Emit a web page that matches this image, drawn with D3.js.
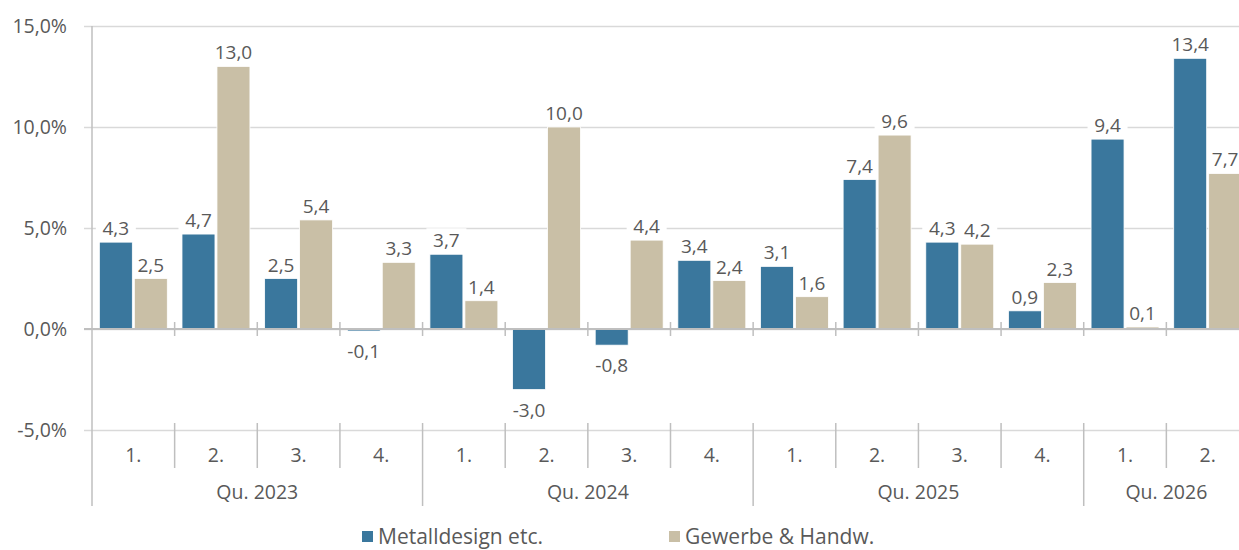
<!DOCTYPE html>
<html lang="de">
<head>
<meta charset="utf-8">
<script src="https://d3js.org/d3.v7.min.js"></script>
<style>
    body { margin: 0; background: #fff; }
    * { font-family: "Open Sans", sans-serif; }
    .label { font-size: 19.5px; fill: #595959; }
    .dlabel { font-size: 19px; fill: #595959; }
    .legend { font-size: 21px; fill: #595959; }
    .grid line { stroke: #d9d9d9; stroke-width: 1.5; }
    .grid path { display: none; }
</style>
</head>
<body>
<svg id="chart"></svg>
<script>
    // categories and values
    const quarters = ["1.", "2.", "3.", "4.", "1.", "2.", "3.", "4.", "1.", "2.", "3.", "4.", "1.", "2."];
    const years = ["Qu. 2023", "Qu. 2024", "Qu. 2025", "Qu. 2026"];
    const yearSizes = [4, 4, 4, 2];
    const series = ["Metalldesign etc.", "Gewerbe & Handw."];
    const metall = [4.3, 4.7, 2.5, -0.1, 3.7, -3.0, -0.8, 3.4, 3.1, 7.4, 4.3, 0.9, 9.4, 13.4];
    const gewerbe = [2.5, 13.0, 5.4, 3.3, 1.4, 10.0, 4.4, 2.4, 1.6, 9.6, 4.2, 2.3, 0.1, 7.7];
    const yTicks = [-5, 0, 5, 10, 15];

    const colors = ["#3a779d", "#c9bfa6"];
    const width = 1239, height = 550;
    const plot = {left: 92, right: 1249, top: 26, bottom: 430};

    const de = d3.formatLocale({decimal: ",", thousands: ".", grouping: [3], currency: ["", " €"], minus: "-"});
    const f1 = de.format(".1f");

    const svg = d3.select("#chart").attr("width", width).attr("height", height);

    const x = d3.scaleBand().domain(d3.range(quarters.length)).range([plot.left, plot.right]);
    const xs = d3.scaleBand().domain([0, 1]).range([0, x.bandwidth()])
        .paddingInner(0.057).paddingOuter(0.21);
    const y = d3.scaleLinear().domain([-5, 15]).range([plot.bottom, plot.top]);

    // gridlines
    svg.append("g").attr("class", "grid")
        .attr("transform", `translate(${plot.left},0)`)
        .call(d3.axisLeft(y).tickValues(yTicks).tickSize(-(plot.right - plot.left)).tickFormat(""))
        .selectAll("line").attr("x1", -8);

    // y axis labels
    svg.append("g").selectAll("text").data(yTicks).enter().append("text")
        .attr("class", "label")
        .attr("x", 67).attr("y", d => y(d) + 7)
        .attr("text-anchor", "end")
        .text(d => f1(d) + "%");

    const data = d3.range(quarters.length).map(i => [metall[i], gewerbe[i]]);
    const labelY = d => d >= 0 ? y(d) - 14 : y(d) + 20;

    // white boxes behind data labels (they only hide gridlines)
    const boxes = svg.append("g").selectAll("g").data(data).enter().append("g")
        .attr("transform", (d, i) => `translate(${x(i)},0)`);
    boxes.selectAll("rect").data(d => d).enter().append("rect")
        .attr("x", (d, j) => xs(j) + xs.bandwidth() / 2 - 20)
        .attr("y", d => labelY(d) - 12)
        .attr("width", 40).attr("height", 24)
        .attr("fill", "#fff");

    // bars
    const groups = svg.append("g").selectAll("g").data(data).enter().append("g")
        .attr("transform", (d, i) => `translate(${x(i)},0)`);

    groups.selectAll("rect").data(d => d).enter().append("rect")
        .attr("x", (d, j) => xs(j))
        .attr("width", xs.bandwidth())
        .attr("y", d => y(Math.max(0, d)))
        .attr("height", d => Math.abs(y(d) - y(0)))
        .attr("fill", (d, j) => colors[j])
        .attr("stroke", "#fff").attr("stroke-width", 0.8);

    // zero line and axis lines
    const axisColor = "#bfbfbf";
    svg.append("line")
        .attr("x1", plot.left - 8).attr("x2", plot.right).attr("y1", y(0)).attr("y2", y(0))
        .attr("stroke", axisColor).attr("stroke-width", 2);
    svg.append("line")
        .attr("x1", plot.left).attr("x2", plot.left).attr("y1", plot.top).attr("y2", 506)
        .attr("stroke", axisColor).attr("stroke-width", 1.5);

    // ticks on zero line
    svg.append("g").selectAll("line").data(d3.range(1, quarters.length)).enter().append("line")
        .attr("x1", i => x(i)).attr("x2", i => x(i))
        .attr("y1", y(0) - 7).attr("y2", y(0) + 7)
        .attr("stroke", axisColor).attr("stroke-width", 1.5);

    // data labels
    groups.selectAll("text").data(d => d).enter().append("text").attr("class", "dlabel")
        .attr("text-anchor", "middle")
        .attr("x", (d, j) => xs(j) + xs.bandwidth() / 2)
        .attr("y", d => labelY(d) + 7)
        .text(d => f1(d));

    // category axis
    const bounds = [0];
    yearSizes.forEach(n => bounds.push(bounds[bounds.length - 1] + n));
    svg.append("g").selectAll("line").data(d3.range(1, quarters.length)).enter().append("line")
        .attr("x1", i => x(i)).attr("x2", i => x(i))
        .attr("y1", plot.bottom - 7)
        .attr("y2", i => bounds.includes(i) ? 506 : 468)
        .attr("stroke", axisColor).attr("stroke-width", 1.5);

    svg.append("g").selectAll("text").data(quarters).enter().append("text")
        .attr("class", "label").attr("text-anchor", "middle")
        .attr("x", (d, i) => x(i) + x.bandwidth() / 2).attr("y", 462)
        .text(d => d);

    svg.append("g").selectAll("text").data(years).enter().append("text")
        .attr("class", "label").attr("text-anchor", "middle")
        .attr("x", (d, k) => (x(bounds[k]) + (bounds[k + 1] < quarters.length ? x(bounds[k + 1]) : plot.right)) / 2)
        .attr("y", 499)
        .text(d => d);

    // legend
    const legendX = [362, 669];
    const legend = svg.append("g").selectAll("g").data(series).enter().append("g")
        .attr("transform", (d, j) => `translate(${legendX[j]},531)`);
    legend.append("rect").attr("width", 11).attr("height", 11).attr("fill", (d, j) => colors[j]);
    legend.append("text").attr("class", "legend").attr("x", 16).attr("y", 13).text(d => d);
</script>
</body>
</html>
